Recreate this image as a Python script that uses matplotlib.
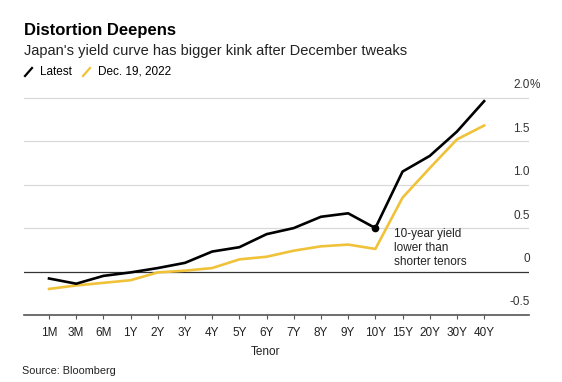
import matplotlib.pyplot as plt
from matplotlib.lines import Line2D
from matplotlib.transforms import blended_transform_factory

plt.rcParams['font.family'] = ['Liberation Sans', 'DejaVu Sans']

tenors = ["1M", "3M", "6M", "1Y", "2Y", "3Y", "4Y", "5Y", "6Y", "7Y", "8Y",
          "9Y", "10Y", "15Y", "20Y", "30Y", "40Y"]
latest = [-0.08, -0.14, -0.05, -0.01, 0.04, 0.10, 0.23, 0.28, 0.43, 0.50,
          0.63, 0.67, 0.50, 1.15, 1.33, 1.61, 1.96]
dec19 = [-0.20, -0.16, -0.13, -0.10, -0.01, 0.01, 0.04, 0.14, 0.17, 0.24,
         0.29, 0.31, 0.26, 0.85, 1.19, 1.52, 1.68]
yticks = [-0.5, 0, 0.5, 1.0, 1.5, 2.0]
ylabels = ["-0.5", "0", "0.5", "1.0", "1.5", "2.0"]

black = "#000000"
yellow = "#F0C23A"

fig = plt.figure(figsize=(5.62, 3.82), dpi=100)
ax = fig.add_axes([24/562, 67/382, 505/562, 226/382])

x = range(len(tenors))
ax.plot(x, dec19, color=yellow, lw=1.9, solid_joinstyle="round")
ax.plot(x, latest, color=black, lw=1.9, solid_joinstyle="round")
i10 = tenors.index("10Y")
ax.plot(i10, latest[i10], "o", color=black, ms=4.5)

ax.set_xlim(-0.92, 17.65)
ax.set_ylim(-0.5, 2.1)

for v in yticks:
    if v == 0:
        ax.axhline(0, color="#333333", lw=0.9, zorder=0)
    elif v == -0.5:
        ax.axhline(v, color="#555555", lw=1.2, zorder=0, clip_on=False)
    else:
        ax.axhline(v, color="#d9d9d9", lw=0.9, zorder=0)

tr = blended_transform_factory(ax.transAxes, ax.transData)
for v, lab in zip(yticks, ylabels):
    ax.text(1.002, v + 0.075, lab, transform=tr, ha="right", va="bottom",
            fontsize=8.5, color="#333333")
    if lab == "2.0":
        ax.text(1.002, v + 0.075, "%", transform=tr, ha="left", va="bottom",
                fontsize=8.5, color="#333333")

for s in ax.spines.values():
    s.set_visible(False)
ax.set_yticks([])
ax.set_xticks(list(x))
ax.set_xticklabels(tenors, fontsize=8.5, color="#222222")
ax.tick_params(axis="x", length=3, width=0.8, color="#555555", pad=6)

fig.text(266/562, 1 - 352/382, "Tenor", ha="center", va="center",
         fontsize=8.5, color="#222222")

ax.text(i10 + 0.7, 0.5, "10-year yield\nlower than\nshorter tenors",
        ha="left", va="top", fontsize=8.5, color="#222222", linespacing=1.2)

fig.text(24/562, 1 - 30/382, "Distortion Deepens", fontsize=12,
         fontweight="bold", va="center", ha="left")
fig.text(24/562, 1 - 51/382, "Japan's yield curve has bigger kink after December tweaks",
         fontsize=10.5, va="center", ha="left", color="#222222")

fig.add_artist(Line2D([25/562, 32/562], [1 - 76/382, 1 - 68/382],
                      transform=fig.transFigure, color=black, lw=1.6))
fig.text(40/562, 1 - 72/382, "Latest", fontsize=8.5, va="center", ha="left")
fig.add_artist(Line2D([83/562, 90/562], [1 - 76/382, 1 - 68/382],
                      transform=fig.transFigure, color=yellow, lw=1.6))
fig.text(98/562, 1 - 72/382, "Dec. 19, 2022", fontsize=8.5, va="center", ha="left")

fig.text(22/562, 1 - 371/382, "Source: Bloomberg", fontsize=7.8, va="center",
         ha="left", color="#222222")

fig.savefig("out.png", dpi=100)
